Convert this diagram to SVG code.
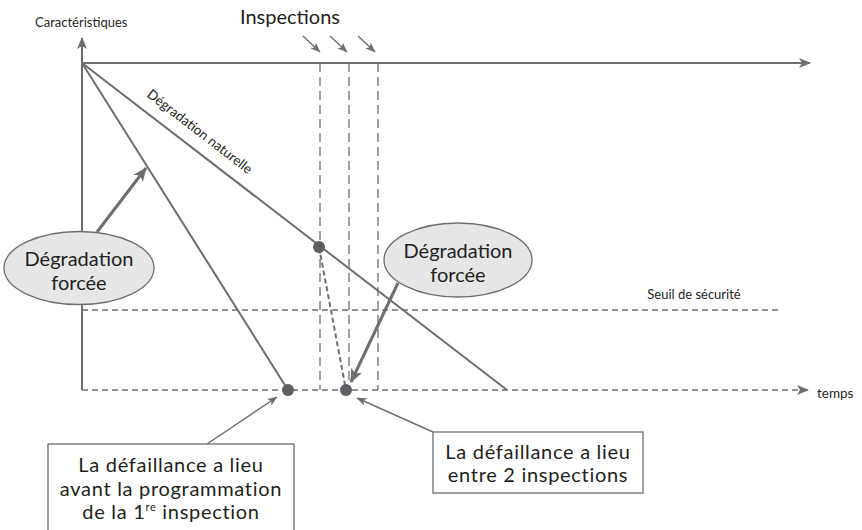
<svg xmlns="http://www.w3.org/2000/svg" width="862" height="530" viewBox="0 0 862 530">
<defs>
<style>
.ln{stroke:#6d6e71;stroke-width:2;fill:none}
.dash{stroke:#6d6e71;stroke-width:1.3;fill:none;stroke-dasharray:6 4}
.vd{stroke:#6d6e71;stroke-width:1.3;fill:none;stroke-dasharray:9 5}
.thick{stroke:#6d6e71;stroke-width:3;fill:none}
.thin{stroke:#6d6e71;stroke-width:1.4;fill:none}
.dot{fill:#5e5f63}
.ell{fill:#e6e6e7;stroke:#6d6e71;stroke-width:1.3}
.box{fill:#fff;stroke:#6d6e71;stroke-width:1.3}
.t{font-family:Lato,"Open Sans","Liberation Sans",sans-serif;fill:#231f20;}
.big{font-size:20px;text-anchor:middle;letter-spacing:0.7px}
.ebig{font-size:20px;text-anchor:middle}
.sm{font-size:13px}
</style>
<marker id="ah" viewBox="0 0 12 10" refX="11" refY="5" markerWidth="12" markerHeight="10" markerUnits="userSpaceOnUse" orient="auto">
<path d="M0,0 L12,5 L0,10 L3,5 Z" fill="#6d6e71"/>
</marker>
<marker id="ahs" viewBox="0 0 10 8" refX="9.5" refY="4" markerWidth="10" markerHeight="8" markerUnits="userSpaceOnUse" orient="auto">
<path d="M0,0 L10,4 L0,8 L2.5,4 Z" fill="#6d6e71"/>
</marker>
<marker id="aht" viewBox="0 0 14 12" refX="13" refY="6" markerWidth="14" markerHeight="12" markerUnits="userSpaceOnUse" orient="auto">
<path d="M0,0 L14,6 L0,12 L3.5,6 Z" fill="#6d6e71"/>
</marker>
</defs>
<rect width="862" height="530" fill="#fff"/>

<g id="axes">
<line class="ln" x1="82" y1="390" x2="82" y2="38" marker-end="url(#ah)"/>
<line class="ln" x1="82" y1="63" x2="810" y2="63" marker-end="url(#ah)"/>
<line class="dash" x1="82" y1="390" x2="808" y2="390" marker-end="url(#ah)"/>
<line class="dash" x1="82" y1="310" x2="782" y2="310"/>
<text class="t sm" x="35" y="27">Caractéristiques</text>
<text class="t" font-size="13.5" x="817" y="398">temps</text>
<text class="t sm" x="694" y="299" text-anchor="middle">Seuil de sécurité</text>
</g>

<g id="inspections">
<line class="vd" x1="320" y1="63" x2="320" y2="390"/>
<line class="vd" x1="349" y1="63" x2="349" y2="390"/>
<line class="vd" x1="378" y1="63" x2="378" y2="390"/>
<text class="t" x="290" y="24" font-size="20" text-anchor="middle">Inspections</text>
<line class="thin" x1="303" y1="36" x2="320" y2="52" marker-end="url(#ahs)"/>
<line class="thin" x1="330" y1="36" x2="347" y2="52" marker-end="url(#ahs)"/>
<line class="thin" x1="358" y1="36" x2="375" y2="52" marker-end="url(#ahs)"/>
</g>

<g id="connectors">
<line class="ln" x1="82" y1="63" x2="507" y2="390"/>
<line class="ln" x1="82" y1="63" x2="288" y2="390"/>
<line stroke="#6d6e71" stroke-width="2" stroke-dasharray="5 3" x1="319" y1="247" x2="346" y2="390"/>
<line class="thick" x1="97" y1="232" x2="146" y2="168" marker-end="url(#aht)"/>
<line class="thick" x1="398" y1="283" x2="351" y2="382" marker-end="url(#aht)"/>
<line class="thin" x1="207" y1="444" x2="277" y2="397" marker-end="url(#ahs)"/>
<line class="thin" x1="433" y1="432" x2="357" y2="398" marker-end="url(#ahs)"/>
<text class="t" font-size="13.5" transform="translate(146,96) rotate(37.6)">Dégradation naturelle</text>
</g>

<g id="points">
<circle class="dot" cx="288" cy="390" r="6"/>
<circle class="dot" cx="319" cy="247" r="6"/>
<circle class="dot" cx="346" cy="390" r="6"/>
</g>

<g id="ellipse-left">
<ellipse class="ell" cx="79" cy="268" rx="75" ry="36.5"/>
<text class="t ebig" x="79" y="266">Dégradation</text>
<text class="t ebig" x="79" y="290">forcée</text>
</g>

<g id="ellipse-right">
<ellipse class="ell" cx="458" cy="260" rx="74" ry="37"/>
<text class="t ebig" x="458" y="258">Dégradation</text>
<text class="t ebig" x="458" y="282">forcée</text>
</g>

<g id="box-before">
<rect class="box" x="48" y="444" width="246" height="90"/>
<text class="t big" x="171" y="472">La défaillance a lieu</text>
<text class="t big" x="171" y="496">avant la programmation</text>
<text class="t big" x="171" y="519">de la 1<tspan font-size="11" dy="-8">re</tspan><tspan dy="8"> inspection</tspan></text>
</g>

<g id="box-between">
<rect class="box" x="433" y="432" width="210" height="61"/>
<text class="t big" x="538" y="459">La défaillance a lieu</text>
<text class="t big" x="538" y="482">entre 2 inspections</text>
</g>
</svg>
